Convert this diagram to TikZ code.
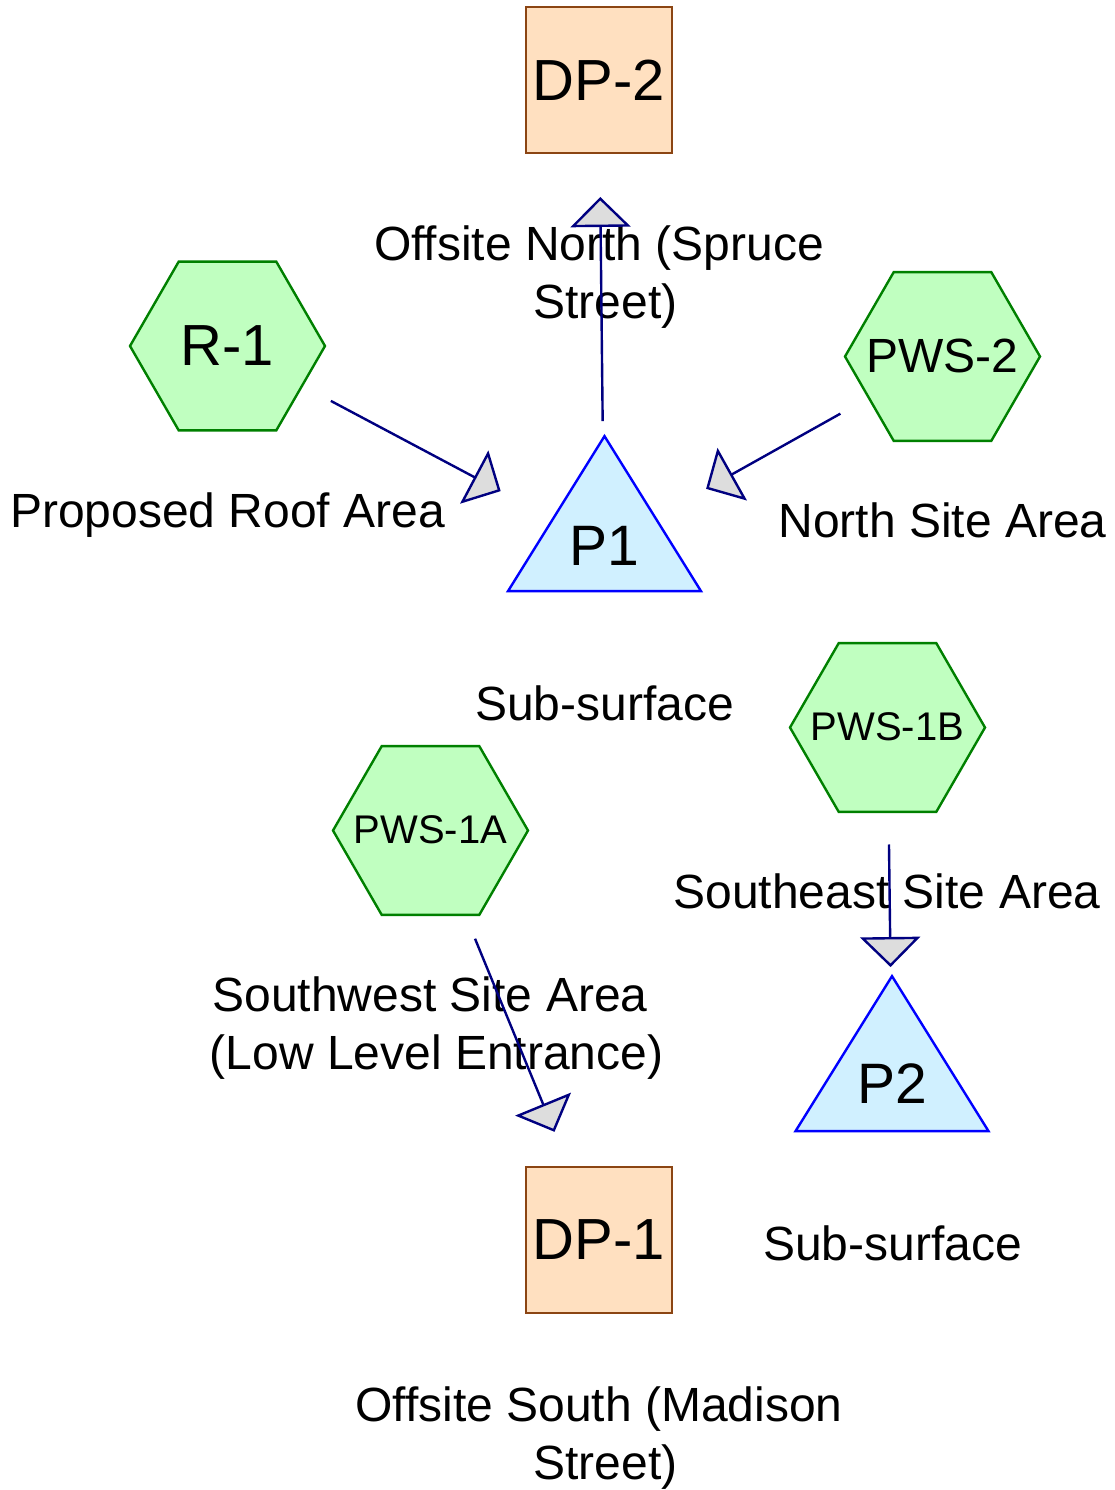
\documentclass[tikz,border=0pt]{standalone}
\usepackage{fontspec}
\setmainfont{Liberation Sans}
\usetikzlibrary{shapes.geometric,arrows.meta}
\definecolor{hexfill}{HTML}{C0FFC0}
\definecolor{hexdraw}{HTML}{008000}
\definecolor{sqfill}{HTML}{FFE0C0}
\definecolor{sqdraw}{HTML}{8B4513}
\definecolor{trifill}{HTML}{D0F0FF}
\definecolor{tridraw}{HTML}{0000FF}
\definecolor{connc}{HTML}{000080}
\definecolor{tipfill}{HTML}{DDDDDD}
\tikzset{
  hexnode/.style={regular polygon, regular polygon sides=6, minimum size=195pt, inner sep=0pt,
    draw=hexdraw, fill=hexfill, line width=2.4pt},
  sqnode/.style={rectangle, minimum width=146pt, minimum height=146pt, inner sep=0pt,
    draw=sqdraw, fill=sqfill, line width=2.4pt, font=\fontsize{58}{60}\selectfont},
  trinode/.style={isosceles triangle, isosceles triangle stretches, shape border rotate=90,
    minimum width=193pt, minimum height=155pt, inner sep=0pt, anchor=apex,
    draw=tridraw, fill=trifill, line width=2.4pt},
  nodetext/.style={inner sep=0pt},
  lbl/.style={font=\fontsize{48}{58}\selectfont, align=center, inner sep=0pt},
  conn/.style={draw=connc, line width=2.4pt, shorten <=117pt, shorten >=117pt,
    -{Triangle[length=30pt,width=60pt,fill=tipfill,line width=2.4pt]}},
}
\begin{document}
\begin{tikzpicture}[x=1pt,y=-1pt]
\path[use as bounding box] (0,0) rectangle (1115,1490);
% shapes
\node[sqnode] (DP2) at (599,80) {DP-2};
\node[sqnode] (DP1) at (599,1240) {DP-1};
\node[hexnode] (R1) at (227.5,346) {};
\node[hexnode] (PWS2) at (942.5,356.5) {};
\node[hexnode] (PWS1B) at (887.5,727.5) {};
\node[hexnode] (PWS1A) at (430.5,830.5) {};
\node[nodetext, font=\fontsize{58}{60}\selectfont] (tR1) at (R1.center) {R-1};
\node[nodetext, font=\fontsize{48}{50}\selectfont] (tPWS2) at ([yshift=1pt]PWS2.center) {PWS-2};
\node[nodetext, font=\fontsize{40}{42}\selectfont] (tPWS1B) at ([yshift=1pt]PWS1B.center) {PWS-1B};
\node[nodetext, font=\fontsize{40}{42}\selectfont] (tPWS1A) at ([yshift=1pt]PWS1A.center) {PWS-1A};
\node[trinode] (P1s) at (604.5,433) {};
\node[trinode] (P2s) at (892,973) {};
\node[nodetext, font=\fontsize{57}{60}\selectfont] (P1) at (604,546) {P1};
\node[nodetext, font=\fontsize{57}{60}\selectfont] (P2) at (892,1084) {P2};
% labels
\node[lbl] (lDP2) at (605.5,277.5) {Offsite North (Spruce\kern13pt\\Street)};
\node[lbl, anchor=base] (lR1) at (227.5,527) {Proposed Roof Area};
\node[lbl, anchor=base] (lPWS2) at (942.5,537) {North Site Area};
\node[lbl, anchor=base] (lP1) at (604.5,720) {Sub-surface};
\node[lbl, anchor=base] (lPWS1B) at (887,908) {Southeast Site Area};
\node[lbl] (lPWS1A) at (436.5,1028.5) {Southwest Site Area\kern13pt\\(Low Level Entrance)};
\node[lbl, anchor=base] (lP2) at (892.5,1260) {Sub-surface};
\node[lbl] (lDP1) at (605.5,1438.5) {Offsite South (Madison\kern13pt\\Street)};
% connectors
\draw[conn] (R1.center) -- (P1.center);
\draw[conn] (PWS2.center) -- (P1.center);
\draw[conn, shorten <=125pt] (P1.center) -- (DP2.center);
\draw[conn] (PWS1B.center) -- (P2.center);
\draw[conn] (PWS1A.center) -- (DP1.center);
\end{tikzpicture}
\end{document}
